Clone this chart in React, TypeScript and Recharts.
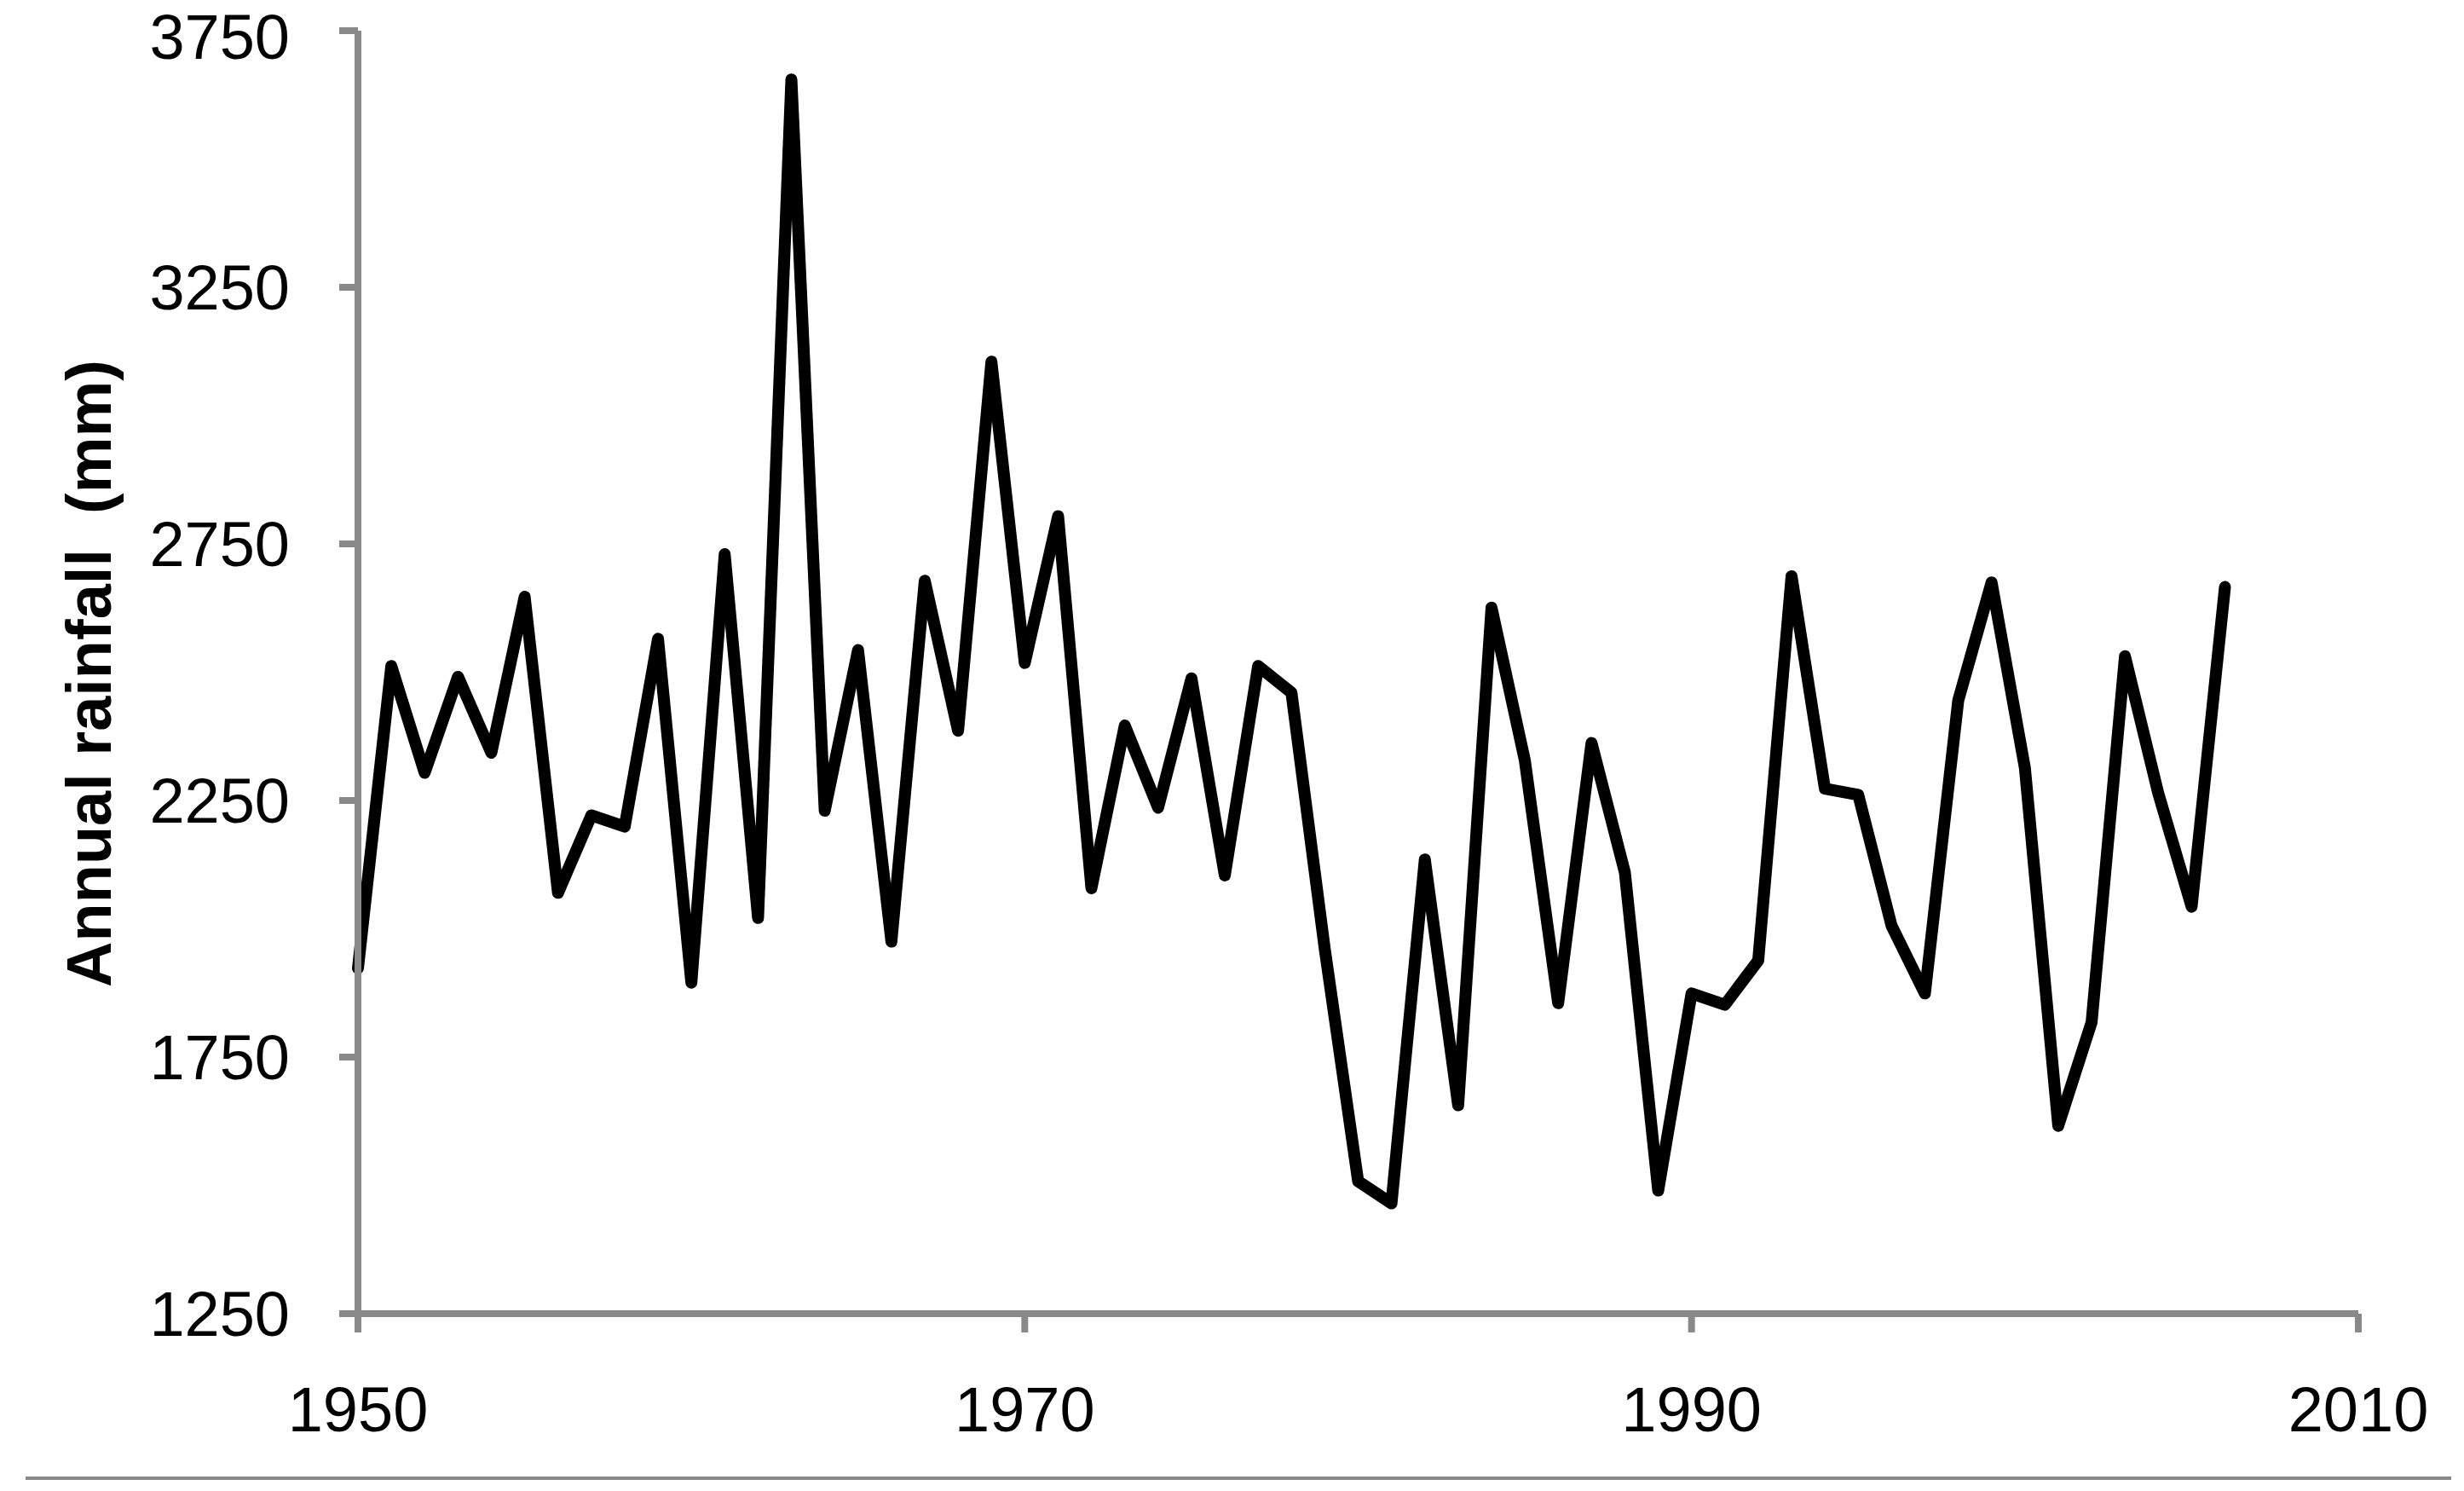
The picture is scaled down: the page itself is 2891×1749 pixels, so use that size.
import React from "react"
import { LineChart, Line, XAxis, YAxis } from "recharts"

// annual rainfall
const years = [
  1950, 1951, 1952, 1953, 1954, 1955, 1956, 1957, 1958, 1959,
  1960, 1961, 1962, 1963, 1964, 1965, 1966, 1967, 1968, 1969,
  1970, 1971, 1972, 1973, 1974, 1975, 1976, 1977, 1978, 1979,
  1980, 1981, 1982, 1983, 1984, 1985, 1986, 1987, 1988, 1989,
  1990, 1991, 1992, 1993, 1994, 1995, 1996, 1997, 1998, 1999,
  2000, 2001, 2002, 2003, 2004, 2005, 2006,
]
const rainfall = [
  1923, 2512, 2304, 2491, 2343, 2647, 2070, 2221, 2199, 2565,
  1895, 2730, 2021, 3655, 2230, 2543, 1975, 2678, 2386, 3105,
  2518, 2804, 2079, 2396, 2236, 2488, 2104, 2512, 2460, 1960,
  1508, 1465, 2135, 1656, 2626, 2328, 1855, 2362, 2110, 1490,
  1874, 1852, 1938, 2687, 2273, 2261, 2006, 1874, 2445, 2675,
  2313, 1616, 1818, 2531, 2264, 2043, 2666,
]
const xTicks = [1950, 1970, 1990, 2010]
const yTicks = [1250, 1750, 2250, 2750, 3250, 3750]

const data = years.map((year, i) => ({ year, rain: rainfall[i] }))

const axisGray = "#898989"
const font = "'Liberation Sans', Arial, sans-serif"

export default function App() {
  return (
    <div style={{ position: "absolute", left: 0, top: 0, width: 2891, height: 1749, background: "#fff" }}>
      <LineChart width={2891} height={1749} data={data} margin={{ top: 36, right: 124, left: 0, bottom: 0 }}>
        <XAxis
          dataKey="year"
          type="number"
          domain={[1950, 2010]}
          ticks={xTicks}
          height={208}
          axisLine={{ stroke: axisGray, strokeWidth: 8 }}
          tickLine={{ stroke: axisGray, strokeWidth: 8 }}
          tickSize={22}
          tickMargin={63}
          tick={{ fill: "#000", fontSize: 74, fontFamily: font }}
        />
        <YAxis
          type="number"
          domain={[1250, 3750]}
          ticks={yTicks}
          width={420}
          axisLine={{ stroke: axisGray, strokeWidth: 8 }}
          tickLine={{ stroke: axisGray, strokeWidth: 8 }}
          tickSize={22}
          tickMargin={58}
          tick={{ fill: "#000", fontSize: 74, fontFamily: font }}
          label={{
            content: () => (
              <text
                x={130}
                y={790}
                transform="rotate(-90, 130, 790)"
                textAnchor="middle"
                fontSize={74}
                fontWeight="bold"
                fontFamily={font}
                fill="#000"
                style={{ whiteSpace: "pre" }}
              >
                {"Annual rainfall  (mm)"}
              </text>
            ),
          }}
        />
        <Line
          type="linear"
          dataKey="rain"
          stroke="#000"
          strokeWidth={14}
          strokeLinejoin="round"
          strokeLinecap="round"
          dot={false}
          isAnimationActive={false}
        />
      </LineChart>
      {/* thin rule under the figure */}
      <div style={{ position: "absolute", left: 30, top: 1732, width: 2846, height: 4, background: axisGray }} />
    </div>
  )
}
